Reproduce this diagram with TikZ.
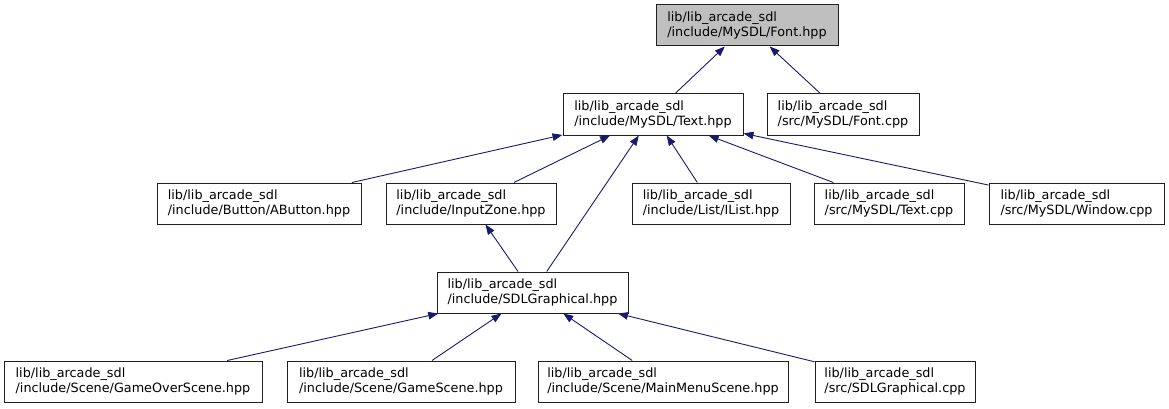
\documentclass[tikz,border=0pt]{standalone}
\usepackage{fontspec}
\setmainfont{DejaVu Sans}
\usetikzlibrary{arrows.meta}
\definecolor{edgeblue}{HTML}{191970}
\definecolor{rootfill}{HTML}{BFBFBF}
\definecolor{boxline}{HTML}{202020}
\tikzset{
  file/.style={draw=boxline, line width=1pt, rectangle, inner sep=0pt,
    minimum height=41pt, align=left, fill=white,
    font=\fontsize{12.8}{14.8}\selectfont},
  rootfile/.style={file, fill=rootfill},
  dep/.style={draw=edgeblue, line width=0.9pt,
    -{Triangle[length=10pt,width=7.5pt]}, shorten >=0pt}
}
\begin{document}
\begin{tikzpicture}[x=1pt,y=-1pt]
\useasboundingbox (0,0) rectangle (1169,409);
\node[rootfile, minimum width=182pt] (fonth) at (747,25.5) {lib/lib\_arcade\_sdl\\/include/MySDL/Font.hpp};
\node[file, minimum width=180pt] (texth) at (653,114.5) {lib/lib\_arcade\_sdl\\/include/MySDL/Text.hpp};
\node[file, minimum width=152pt] (fontc) at (843,114.5) {lib/lib\_arcade\_sdl\\/src/MySDL/Font.cpp};
\node[file, minimum width=204pt] (abtn) at (259,203.5) {lib/lib\_arcade\_sdl\\/include/Button/AButton.hpp};
\node[file, minimum width=170pt] (input) at (471,203.5) {lib/lib\_arcade\_sdl\\/include/InputZone.hpp};
\node[file, minimum width=158pt] (ilist) at (711,203.5) {lib/lib\_arcade\_sdl\\/include/List/IList.hpp};
\node[file, minimum width=150pt] (textc) at (889,203.5) {lib/lib\_arcade\_sdl\\/src/MySDL/Text.cpp};
\node[file, minimum width=175pt] (window) at (1076.5,203.5) {lib/lib\_arcade\_sdl\\/src/MySDL/Window.cpp};
\node[file, minimum width=191pt] (sdlh) at (532.5,292.5) {lib/lib\_arcade\_sdl\\/include/SDLGraphical.hpp};
\node[file, minimum width=258pt] (gameover) at (133,381.5) {lib/lib\_arcade\_sdl\\/include/Scene/GameOverScene.hpp};
\node[file, minimum width=228pt] (game) at (401,381.5) {lib/lib\_arcade\_sdl\\/include/Scene/GameScene.hpp};
\node[file, minimum width=250pt] (mainmenu) at (663,381.5) {lib/lib\_arcade\_sdl\\/include/Scene/MainMenuScene.hpp};
\node[file, minimum width=160pt] (sdlc) at (895,381.5) {lib/lib\_arcade\_sdl\\/src/SDLGraphical.cpp};

\draw[dep] (texth) -- (fonth);
\draw[dep] (fontc) -- (fonth);
\draw[dep] (abtn) -- (texth);
\draw[dep] (input) -- (texth);
\draw[dep] (sdlh) -- (texth);
\draw[dep] (ilist) -- (texth);
\draw[dep] (textc) -- (texth);
\draw[dep] (window) -- (texth);
\draw[dep] (sdlh) -- (input);
\draw[dep] (gameover) -- (sdlh);
\draw[dep] (game) -- (sdlh);
\draw[dep] (mainmenu) -- (sdlh);
\draw[dep] (sdlc) -- (sdlh);
\end{tikzpicture}
\end{document}
